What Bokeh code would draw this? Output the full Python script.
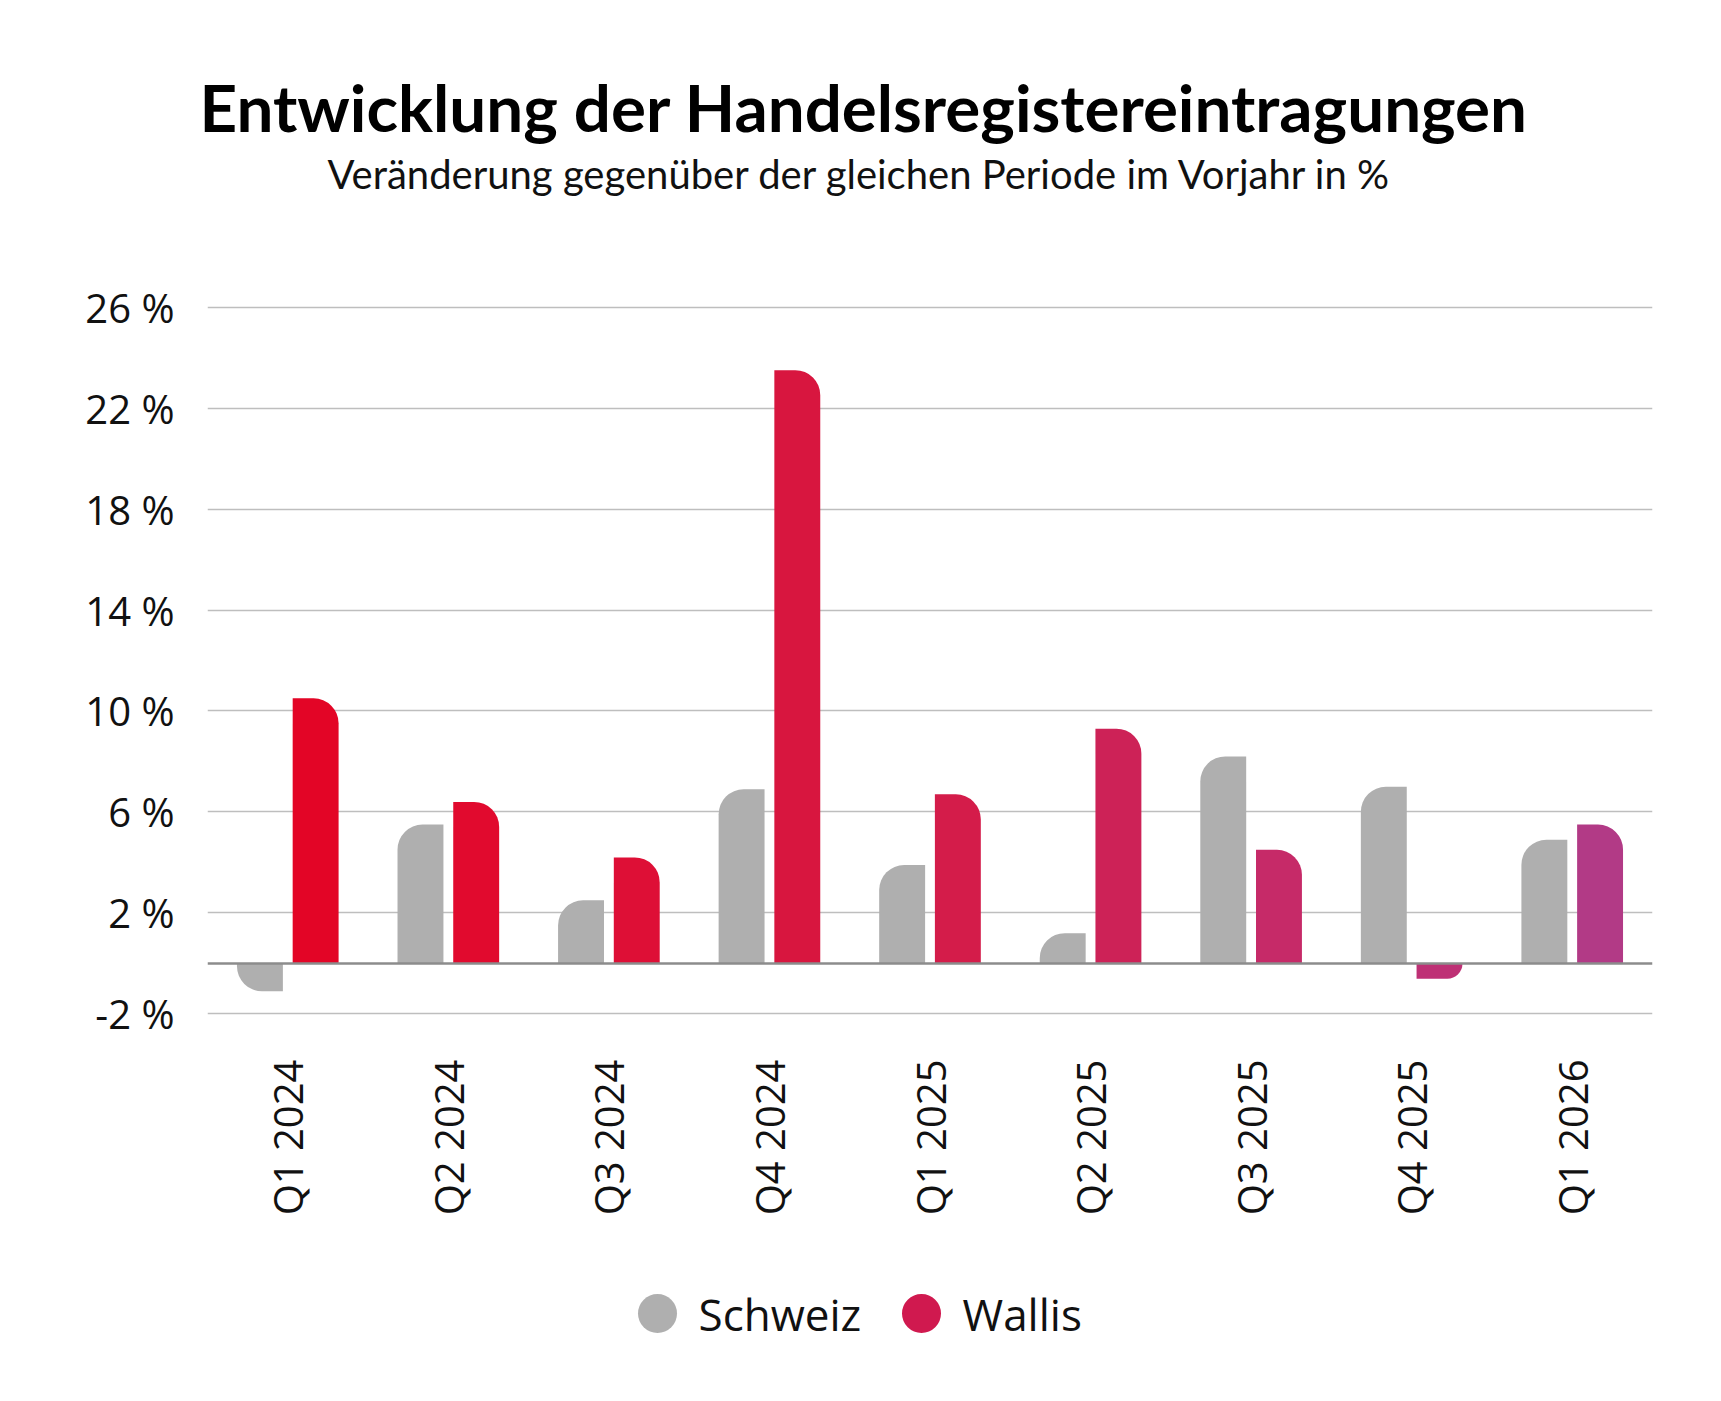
from math import pi
import pandas as pd
from bokeh.plotting import figure
from bokeh.layouts import column
from bokeh.core.properties import value
from bokeh.models import (ColumnDataSource, FactorRange, Range1d, FixedTicker,
                          PrintfTickFormatter, Span, Title)
from bokeh.transform import dodge
from bokeh.embed import file_html
from bokeh.resources import INLINE

quarters = ["Q1 2024", "Q2 2024", "Q3 2024", "Q4 2024", "Q1 2025",
            "Q2 2025", "Q3 2025", "Q4 2025", "Q1 2026"]
schweiz = [-1.1, 5.5, 2.5, 6.9, 3.9, 1.2, 8.2, 7.0, 4.9]
wallis = [10.5, 6.4, 4.2, 23.5, 6.7, 9.3, 4.5, -0.6, 5.5]
y_ticks = [-2, 2, 6, 10, 14, 18, 22, 26]
series = ["Schweiz", "Wallis"]

grey = "#AFAFAF"
wallis_colors = ["#E30526", "#E10A2E", "#DE0F36", "#D8163F", "#D41C4A",
                 "#CD2257", "#C62A68", "#BE3075", "#B23A86"]
legend_colors = [grey, "#D0194F"]

df = pd.DataFrame({"q": quarters, "schweiz": schweiz, "wallis": wallis,
                   "wcolor": wallis_colors})
df["zero"] = 0.0

p = figure(x_range=FactorRange(*quarters, range_padding=0), y_range=Range1d(-2.1, 26.1),
           width=1721, height=1250, output_backend="svg", toolbar_location=None,
           min_border_left=207, min_border_right=69, min_border_top=304, min_border_bottom=234)
p.outline_line_color = None
p.title = None

r = 25
bw = 0.286
off = 0.1735

pos_s = ColumnDataSource(df[df["schweiz"] >= 0])
neg_s = ColumnDataSource(df[df["schweiz"] < 0])
pos_w = ColumnDataSource(df[df["wallis"] >= 0])
neg_w = ColumnDataSource(df[df["wallis"] < 0])

p.vbar(x=dodge("q", -off, range=p.x_range), top="schweiz", bottom="zero", width=bw,
       source=pos_s, fill_color=grey, line_color=None, border_radius=(r, 0, 0, 0))
p.vbar(x=dodge("q", -off, range=p.x_range), top="zero", bottom="schweiz", width=bw,
       source=neg_s, fill_color=grey, line_color=None, border_radius=(0, 0, 0, r))
p.vbar(x=dodge("q", off, range=p.x_range), top="wallis", bottom="zero", width=bw,
       source=pos_w, fill_color="wcolor", line_color=None, border_radius=(0, r, 0, 0))
p.vbar(x=dodge("q", off, range=p.x_range), top="zero", bottom="wallis", width=bw,
       source=neg_w, fill_color="wcolor", line_color=None, border_radius=(0, 0, r, 0))

p.add_layout(Span(location=0, dimension="width", line_color="#8C8C8C", line_width=2.5))

# axes
p.xaxis.axis_line_color = None
p.yaxis.axis_line_color = None
p.xaxis.major_tick_line_color = None
p.yaxis.major_tick_line_color = None
p.xaxis.minor_tick_line_color = None
p.yaxis.minor_tick_line_color = None
p.xaxis.major_tick_out = 0
p.yaxis.major_tick_out = 0
p.yaxis.ticker = FixedTicker(ticks=y_ticks)
p.yaxis.formatter = PrintfTickFormatter(format="%d %%")
p.yaxis.major_label_text_font = "Open Sans"
p.yaxis.major_label_text_font_size = "40px"
p.yaxis.major_label_text_color = "#111111"
p.yaxis.major_label_standoff = 33
p.xaxis.major_label_orientation = pi / 2
p.xaxis.major_label_text_font = "Open Sans"
p.xaxis.major_label_text_font_size = "40px"
p.xaxis.major_label_text_color = "#111111"
p.xaxis.major_label_standoff = 43

p.xgrid.grid_line_color = None
p.ygrid.ticker = FixedTicker(ticks=y_ticks)
p.ygrid.grid_line_color = "#BEBEBE"
p.ygrid.grid_line_width = 1.5

# titles (first added sits closest to the plot)
p.add_layout(Title(text=" ", text_font_size="2px", standoff=103), "above")
p.add_layout(Title(text="Veränderung gegenüber der gleichen Periode im Vorjahr in %",
                   text_font="Lato", text_font_size="40px", text_font_style="normal",
                   text_color="#111111", align="left", offset=120, standoff=0), "above")
p.add_layout(Title(text="Entwicklung der Handelsregistereintragungen",
                   text_font="Lato", text_font_size="65.5px", text_font_style="bold",
                   text_color="#000000", align="left", offset=-8, standoff=4), "above")

# legend strip below the chart; its frame is aligned with the chart frame,
# so the x range spans the frame's page pixels (207..1652)
lf = figure(width=1721, height=151, x_range=Range1d(207, 1652), y_range=Range1d(0, 151),
            x_axis_type=None, y_axis_type=None, output_backend="svg",
            toolbar_location=None, min_border=0)
lf.grid.visible = False
lf.outline_line_color = None
dot_x = [657, 921]
label_x = [698, 962]
row_y = [88, 88]
lf.scatter(x=dot_x, y=row_y, marker="circle", size=39, fill_color=legend_colors, line_color=None)
lf.text(x=label_x, y=row_y, text=series, text_font=value("Open Sans"), text_font_size="44px",
        text_baseline="middle", text_align="left", text_color="#111111")

open("out.html", "w").write(file_html(column(p, lf, spacing=0), INLINE))
